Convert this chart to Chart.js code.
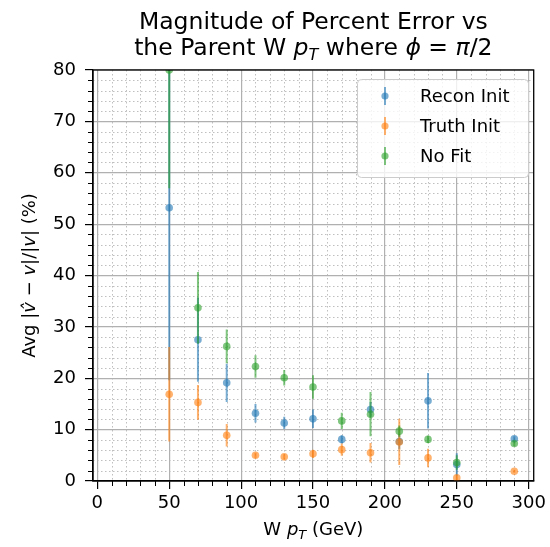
<!DOCTYPE html>
<html>
<head>
<meta charset="utf-8">
<script src="https://cdn.jsdelivr.net/npm/chart.js@4.4.0/dist/chart.umd.min.js"></script>
<style>
  html, body { margin: 0; padding: 0; background: #fff; }
  #wrap { width: 550px; height: 547px; }
</style>
</head>
<body>
<div id="wrap"><canvas id="chart" width="550" height="547"></canvas></div>
<script>
// valores
const ptValues   = [50, 70, 90, 110, 130, 150, 170, 190, 210, 230, 250, 290];
const reconMean  = [53.2, 27.5, 19.1, 13.2, 11.3, 12.1, 8.1, 13.9, 7.7, 15.6, 3.2, 8.2];
const reconErr   = [33.6, 8.2, 3.7, 1.8, 1.2, 1.8, 0.8, 1.5, 1.5, 5.4, 2.2, 0.5];
const truthMean  = [16.9, 15.3, 8.9, 5.0, 4.7, 5.3, 6.1, 5.5, 7.6, 4.5, 0.6, 1.9];
const truthErr   = [9.2, 3.4, 2.2, 0.5, 0.5, 0.8, 1.2, 1.9, 4.5, 1.8, 0.5, 0.3];
const noFitMean  = [80.0, 33.7, 26.2, 22.3, 20.1, 18.3, 11.7, 13.0, 9.7, 8.1, 3.6, 7.3];
const noFitErr   = [23.0, 7.0, 3.3, 2.2, 1.5, 2.3, 1.6, 4.3, 1.1, 0.7, 1.4, 0.5];

const seriesNames = ['Recon Init', 'Truth Init', 'No Fit'];
const xTickValues = [0, 50, 100, 150, 200, 250, 300];
const xTickLabels = ['0', '50', '100', '150', '200', '250', '300'];
const yTickValues = [0, 10, 20, 30, 40, 50, 60, 70, 80];
const yTickLabels = ['0', '10', '20', '30', '40', '50', '60', '70', '80'];
const xMinorStep = 10;
const yMinorStep = 2;

const cores = ['rgba(31,119,180,0.6)', 'rgba(255,127,14,0.6)', 'rgba(44,160,44,0.6)'];
const FONT = '"DejaVu Sans", sans-serif';
const erros = [reconErr, truthErr, noFitErr];

function pontos(media) {
    return ptValues.map((x, i) => ({ x: x, y: media[i] }));
}

function textoRico(ctx, partes, cx, y, size) {
    const fontes = {
        n: `${size}px ${FONT}`,
        i: `italic ${size}px ${FONT}`,
        s: `italic ${Math.round(size * 0.7)}px ${FONT}`
    };
    let total = 0;
    partes.forEach(p => { ctx.font = fontes[p[1]]; total += ctx.measureText(p[0]).width; });
    let x = cx - total / 2;
    ctx.textAlign = 'left';
    partes.forEach(p => {
        ctx.font = fontes[p[1]];
        const dy = p[1] === 's' ? size * 0.22 : 0;
        ctx.fillText(p[0], x, y + dy);
        x += ctx.measureText(p[0]).width;
    });
}

const errorBarsPlugin = {
    id: 'errorBars',
    beforeDatasetDraw(chart, args) {
        const ctx = chart.ctx;
        const area = chart.chartArea;
        const xs = chart.scales.x, ys = chart.scales.y;
        const err = erros[args.index];
        const ds = chart.data.datasets[args.index];
        ctx.save();
        ctx.beginPath();
        ctx.rect(area.left, area.top, area.right - area.left, area.bottom - area.top);
        ctx.clip();
        ctx.strokeStyle = ds.backgroundColor;
        ctx.lineWidth = 2;
        ds.data.forEach((p, i) => {
            const px = xs.getPixelForValue(p.x);
            ctx.beginPath();
            ctx.moveTo(px, ys.getPixelForValue(p.y - err[i]));
            ctx.lineTo(px, ys.getPixelForValue(p.y + err[i]));
            ctx.stroke();
        });
        ctx.restore();
    }
};

const moldura = {
    id: 'moldura',
    beforeDatasetsDraw(chart) {
        const ctx = chart.ctx;
        const a = chart.chartArea;
        const xs = chart.scales.x, ys = chart.scales.y;
        ctx.save();
        // grade menor pontilhada
        ctx.strokeStyle = 'rgba(176,176,176,0.9)';
        ctx.lineWidth = 0.9;
        ctx.setLineDash([1.5, 2.5]);
        for (let v = 0; v <= 300; v += xMinorStep) {
            if (v % 50 === 0) continue;
            const px = Math.round(xs.getPixelForValue(v)) + 0.5;
            ctx.beginPath(); ctx.moveTo(px, a.top); ctx.lineTo(px, a.bottom); ctx.stroke();
        }
        for (let v = 0; v <= 80; v += yMinorStep) {
            if (v % 10 === 0) continue;
            const py = Math.round(ys.getPixelForValue(v)) + 0.5;
            ctx.beginPath(); ctx.moveTo(a.left, py); ctx.lineTo(a.right, py); ctx.stroke();
        }
        ctx.setLineDash([]);
        // ticks menores
        ctx.strokeStyle = '#000';
        ctx.lineWidth = 1;
        for (let v = 0; v <= 300; v += xMinorStep) {
            if (v % 50 === 0) continue;
            const px = Math.round(xs.getPixelForValue(v)) + 0.5;
            ctx.beginPath(); ctx.moveTo(px, a.bottom); ctx.lineTo(px, a.bottom + 5); ctx.stroke();
        }
        for (let v = 0; v <= 80; v += yMinorStep) {
            if (v % 10 === 0) continue;
            const py = Math.round(ys.getPixelForValue(v)) + 0.5;
            ctx.beginPath(); ctx.moveTo(a.left - 5, py); ctx.lineTo(a.left, py); ctx.stroke();
        }
        ctx.restore();
    },
    afterDatasetsDraw(chart) {
        const ctx = chart.ctx;
        const a = chart.chartArea;
        ctx.save();
        ctx.strokeStyle = '#000';
        ctx.lineWidth = 1.3;
        ctx.strokeRect(a.left, a.top, a.right - a.left, a.bottom - a.top);

        // legenda
        const lx = 357, ly = 79, lw = 171, lh = 98;
        ctx.beginPath();
        ctx.roundRect(lx + 0.5, ly + 0.5, lw, lh, 4);
        ctx.fillStyle = 'rgba(255,255,255,0.8)';
        ctx.fill();
        ctx.strokeStyle = '#cccccc';
        ctx.lineWidth = 1;
        ctx.stroke();
        seriesNames.forEach((nome, i) => {
            const cy = 96 + i * 30;
            ctx.strokeStyle = cores[i];
            ctx.lineWidth = 2;
            ctx.beginPath(); ctx.moveTo(385, cy - 9); ctx.lineTo(385, cy + 9); ctx.stroke();
            ctx.fillStyle = cores[i];
            ctx.beginPath(); ctx.arc(385, cy, 3.6, 0, Math.PI * 2); ctx.fill();
            ctx.fillStyle = '#000';
            ctx.font = `18px ${FONT}`;
            ctx.textAlign = 'left';
            ctx.textBaseline = 'middle';
            ctx.fillText(nome, 420, cy + 1);
        });

        // titulos
        ctx.fillStyle = '#000';
        ctx.textBaseline = 'alphabetic';
        const cx = (a.left + a.right) / 2;
        textoRico(ctx, [['Magnitude of Percent Error vs', 'n']], cx, 29, 23.5);
        textoRico(ctx, [['the Parent W ', 'n'], ['p', 'i'], ['T', 's'], [' where ', 'n'],
            ['\u03D5', 'i'], [' = ', 'n'], ['\u03C0', 'i'], ['/2', 'n']], cx, 55, 23.5);
        textoRico(ctx, [['W ', 'n'], ['p', 'i'], ['T', 's'], [' (GeV)', 'n']], cx, 535, 18);

        ctx.save();
        ctx.translate(35, (a.top + a.bottom) / 2);
        ctx.rotate(-Math.PI / 2);
        textoRico(ctx, [['Avg |', 'n'], ['v\u0302', 'i'], [' \u2212 ', 'n'], ['v', 'i'], ['|/|', 'n'],
            ['v', 'i'], ['| (%)', 'n']], 0, 0, 18);
        ctx.restore();
        ctx.restore();
    }
};

const datasets = [reconMean, truthMean, noFitMean].map((m, i) => ({
    label: seriesNames[i],
    data: pontos(m),
    backgroundColor: cores[i],
    borderColor: cores[i],
    borderWidth: 0,
    pointRadius: 3.8,
    pointHoverRadius: 3.8,
    order: 3 - i
}));

new Chart(document.getElementById('chart'), {
    type: 'scatter',
    data: { datasets: datasets },
    plugins: [errorBarsPlugin, moldura],
    options: {
        responsive: false,
        animation: false,
        events: [],
        layout: { padding: { top: 70, right: 13, left: 0, bottom: 0 } },
        plugins: { legend: { display: false }, tooltip: { enabled: false }, title: { display: false } },
        scales: {
            x: {
                type: 'linear',
                min: -3,
                max: 303.5,
                afterFit: s => { s.height = 66; },
                afterBuildTicks: s => { s.ticks = xTickValues.map(v => ({ value: v })); },
                grid: { color: '#b0b0b0', lineWidth: 1.2, tickColor: '#000', tickLength: 8, tickWidth: 1.2 },
                border: { display: true, color: '#000', width: 1.3 },
                ticks: {
                    autoSkip: false, maxRotation: 0, padding: 4, color: '#000',
                    font: { family: FONT, size: 18 },
                    callback: (v) => xTickLabels[xTickValues.indexOf(v)]
                }
            },
            y: {
                type: 'linear',
                min: 0,
                max: 80,
                afterFit: s => { s.width = 93; },
                afterBuildTicks: s => { s.ticks = yTickValues.map(v => ({ value: v })); },
                grid: { color: '#b0b0b0', lineWidth: 1.2, tickColor: '#000', tickLength: 8, tickWidth: 1.2 },
                border: { display: true, color: '#000', width: 1.3 },
                ticks: {
                    autoSkip: false, padding: 9, color: '#000',
                    font: { family: FONT, size: 18 },
                    callback: (v) => yTickLabels[yTickValues.indexOf(v)]
                }
            }
        }
    }
});
</script>
</body>
</html>
